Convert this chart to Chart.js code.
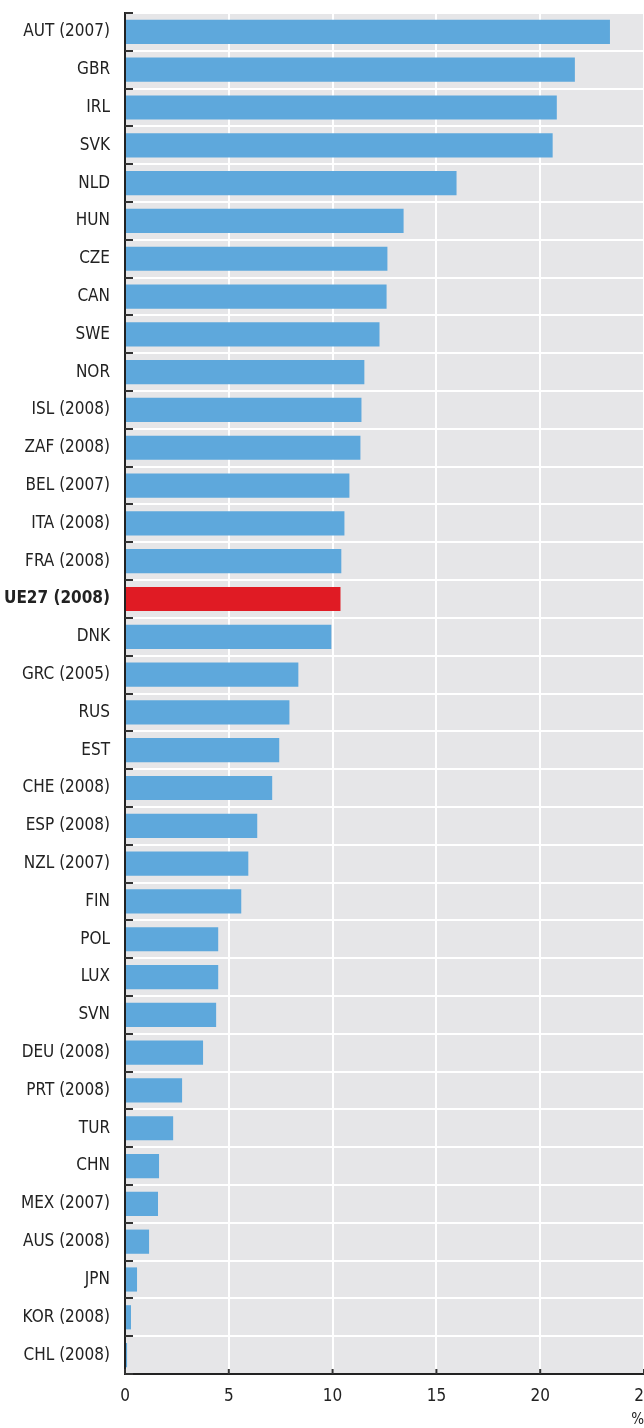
<!DOCTYPE html>
<html>
<head>
<meta charset="utf-8">
<script src="https://cdn.jsdelivr.net/npm/chart.js@4.4.1/dist/chart.umd.min.js"></script>
<style>
  html, body { margin: 0; padding: 0; background: #fff; }
</style>
</head>
<body>
<canvas id="grafico" width="644" height="1428"></canvas>
<script>
const paises = [
  "AUT (2007)", "GBR", "IRL", "SVK", "NLD", "HUN", "CZE", "CAN", "SWE", "NOR",
  "ISL (2008)", "ZAF (2008)", "BEL (2007)", "ITA (2008)", "FRA (2008)", "UE27 (2008)",
  "DNK", "GRC (2005)", "RUS", "EST", "CHE (2008)", "ESP (2008)", "NZL (2007)", "FIN",
  "POL", "LUX", "SVN", "DEU (2008)", "PRT (2008)", "TUR", "CHN", "MEX (2007)",
  "AUS (2008)", "JPN", "KOR (2008)", "CHL (2008)"
];
const valores = [
  23.36, 21.67, 20.8, 20.6, 15.97, 13.42, 12.64, 12.6, 12.26, 11.53,
  11.39, 11.34, 10.81, 10.57, 10.42, 10.38,
  9.94, 8.35, 7.92, 7.43, 7.09, 6.37, 5.94, 5.6,
  4.49, 4.49, 4.39, 3.76, 2.75, 2.32, 1.64, 1.59,
  1.16, 0.58, 0.29, 0.1
];
const destaque = "UE27 (2008)";
const tickPasso = 5;
const eixoMax = 25;

const fonte = "'DejaVu Sans Condensed', 'Liberation Sans Narrow', sans-serif";
const azul = "#5ea8dc";
const vermelho = "#e01b24";

// fundo cinza + pequenos tracos nos eixos
const fundoPlugin = {
  id: "fundo",
  beforeDraw(chart) {
    const { ctx, chartArea: a } = chart;
    ctx.save();
    ctx.fillStyle = "#e6e6e8";
    ctx.fillRect(a.left, a.top, a.right - a.left, a.bottom - a.top);
    ctx.restore();
  },
  afterDatasetsDraw(chart) {
    const { ctx, chartArea: a } = chart;
    const y = chart.scales.y;
    const x = chart.scales.x;
    ctx.save();
    ctx.strokeStyle = "#333";
    ctx.lineWidth = 2;
    for (let i = 0; i <= paises.length; i++) {
      const py = Math.round(y.getPixelForValue(i - 0.5));
      ctx.beginPath();
      ctx.moveTo(a.left, py);
      ctx.lineTo(a.left + 8, py);
      ctx.stroke();
    }
    x.ticks.forEach((t) => {
      const px = x.getPixelForValue(t.value);
      ctx.beginPath();
      ctx.moveTo(px, a.bottom);
      ctx.lineTo(px, a.bottom - 5);
      ctx.stroke();
    });
    ctx.restore();
  }
};

const grafico = new Chart(document.getElementById("grafico"), {
  type: "bar",
  data: {
    labels: paises,
    datasets: [
      {
        data: valores,
        backgroundColor: paises.map((p) => (p === destaque ? vermelho : azul)),
        barPercentage: 0.64,
        categoryPercentage: 1,
        borderWidth: 0,
      },
    ],
  },
  options: {
    indexAxis: "y",
    responsive: false,
    animation: false,
    layout: { padding: { top: 13, right: 0, bottom: 0, left: 0 } },
    plugins: {
      legend: { display: false },
      tooltip: { enabled: false },
    },
    scales: {
      x: {
        min: 0,
        max: eixoMax,
        afterFit: (s) => { s.paddingRight = 0; s.paddingLeft = 0; s.height = 54; },
        border: { display: true, color: "#222", width: 2 },
        grid: { color: "#fff", lineWidth: 2, drawTicks: false },
        ticks: {
          stepSize: tickPasso,
          padding: 12,
          color: "#222",
          font: { family: fonte, size: 17 },
        },
        title: {
          display: true,
          text: "%",
          align: "end",
          color: "#222",
          padding: { top: 0, bottom: 0 },
          font: { family: fonte, size: 15, lineHeight: 1 },
        },
      },
      y: {
        afterFit: (s) => { s.width = 125; s.paddingTop = 0; s.paddingBottom = 0; },
        border: { display: true, color: "#222", width: 2 },
        grid: { color: "#fff", lineWidth: 2, offset: true, drawTicks: false },
        ticks: {
          padding: 15,
          color: "#222",
          font: (c) => ({
            family: fonte,
            size: 17,
            weight: paises[c.index] === destaque ? "bold" : "normal",
          }),
        },
      },
    },
  },
  plugins: [fundoPlugin],
});
</script>
</body>
</html>
